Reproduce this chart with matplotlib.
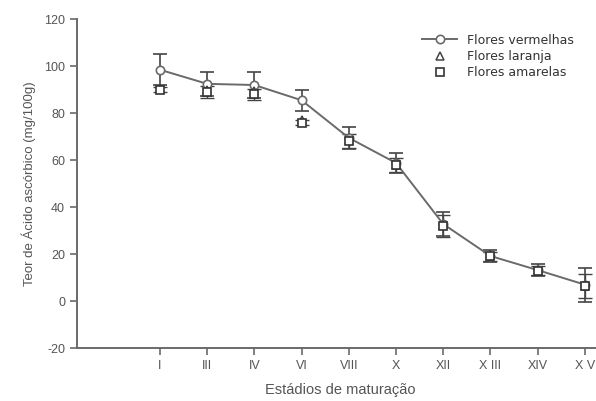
import matplotlib.pyplot as plt

plt.rcParams['font.family'] = ['Liberation Sans', 'DejaVu Sans']
plt.rcParams['axes.unicode_minus'] = False

# estadios de maturacao
estadios = ["I", "III", "IV", "VI", "VIII", "X", "XII", "X III", "XIV", "X V"]

vermelhas = [98.5, 92.5, 92.0, 85.5, 69.5, 58.8, 32.8, 19.2, 13.2, 7.0]
erro_verm = [6.5, 5.2, 5.6, 4.5, 4.8, 4.2, 5.2, 2.6, 2.4, 7.2]

laranja = [90.5, 90.0, 89.5, 77.0, 68.5, 58.0, 32.5, 19.0, 13.0, 6.5]
erro_lar = [1.0, 2.0, 2.0, 1.0, 2.0, 2.0, 3.0, 1.5, 1.5, 3.0]

amarelas = [90.0, 89.0, 88.0, 76.0, 68.0, 58.0, 32.0, 19.0, 13.0, 6.5]
erro_am = [1.0, 2.5, 2.5, 1.0, 3.0, 3.0, 4.5, 2.0, 2.0, 5.0]

cinza = "#6a6a6a"
texto = "#555555"

fig = plt.figure(figsize=(5.96, 4.01), dpi=100)
ax = fig.add_axes([0.129, 0.132, 0.884, 0.820])

x = list(range(len(estadios)))

ax.errorbar(x, amarelas, yerr=erro_am, fmt="none", ecolor="#444444",
            elinewidth=1.0, capsize=5, capthick=1.0, zorder=2)
ax.errorbar(x, vermelhas, yerr=erro_verm, fmt="none", ecolor="#444444",
            elinewidth=1.2, capsize=5, capthick=1.2, zorder=2)
ax.plot(x, vermelhas, color=cinza, lw=1.4, marker="o", ms=6,
        mfc="white", mec=cinza, mew=1.2, label="Flores vermelhas", zorder=3)
ax.plot(x, laranja, ls="none", marker="^", ms=5.5, mfc="white",
        mec="#444444", mew=1.1, label="Flores laranja", zorder=4)
ax.plot(x, amarelas, ls="none", marker="s", ms=5.5, mfc="white",
        mec="#333333", mew=1.2, label="Flores amarelas", zorder=5)

ax.set_xlim(-1.76, 9.4)
ax.set_ylim(-20, 120)
ax.set_yticks(range(-20, 121, 20))
ax.set_xticks(x)
ax.set_xticklabels(estadios)

for s in ["top", "right"]:
    ax.spines[s].set_visible(False)
for s in ["left", "bottom"]:
    ax.spines[s].set_color(cinza)
    ax.spines[s].set_linewidth(1.4)
ax.tick_params(colors=cinza, labelcolor=texto, labelsize=9, width=1.2, length=5)

ax.set_xlabel("Estádios de maturação", color=texto, fontsize=10.5, labelpad=8)
ax.set_ylabel("Teor de Ácido ascórbico (mg/100g)", color=texto, fontsize=9.5, labelpad=6)

leg = ax.legend(loc="upper right", bbox_to_anchor=(0.965, 0.99), frameon=False,
                prop={'family': 'DejaVu Sans', 'size': 9}, handlelength=2.8,
                labelspacing=0.25, handletextpad=0.8)
for t in leg.get_texts():
    t.set_color("#333333")

fig.savefig("out.png", dpi=100)
